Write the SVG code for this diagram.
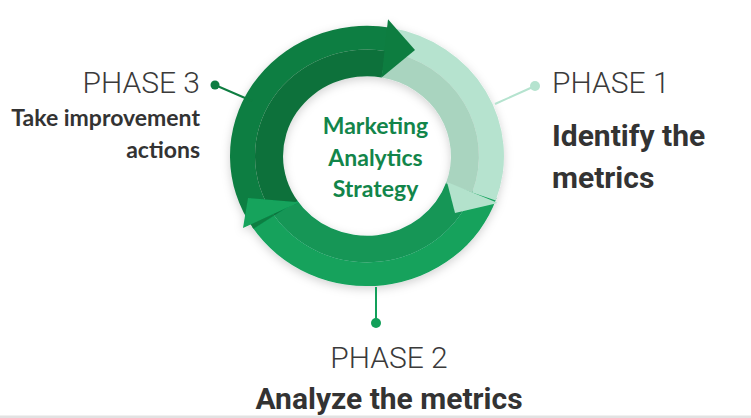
<svg xmlns="http://www.w3.org/2000/svg" width="751" height="418" viewBox="0 0 751 418">
  <defs>
    <filter id="shadow" x="-20%" y="-20%" width="140%" height="140%">
      <feDropShadow dx="0" dy="3" stdDeviation="5" flood-color="#000" flood-opacity="0.18"/>
    </filter>
    <style>
      .phase { font-family: Roboto, "Liberation Sans", sans-serif; font-weight: 300; font-size: 30px; fill: #3a3a3a; }
      .title { font-family: Roboto, "Liberation Sans", sans-serif; font-weight: 700; font-size: 30px; fill: #333333; }
      .sub { font-family: Lato, "Liberation Sans", sans-serif; font-weight: 700; font-size: 23px; fill: #333333; }
      .center { font-family: Lato, "Liberation Sans", sans-serif; font-weight: 700; font-size: 23px; fill: #12854a; text-anchor: middle; }
      .lead { stroke-width: 2; fill: none; }
    </style>
  </defs>
  <rect x="0" y="0" width="751" height="418" fill="#ffffff"/>
  <rect x="0" y="415.5" width="751" height="2.5" fill="#e2e2e2"/>

  <!-- ring -->
  <g id="ring" filter="url(#shadow)" transform="translate(367,156) scale(1,0.95)">
    <g id="body-phase2">
      <path d="M129.5,44.6 A137,137 0 0 1 -114.9,74.6 L-93.9,61.0 A112,112 0 0 0 105.9,36.5 Z" fill="#12a25b"/>
      <path d="M105.9,36.5 A112,112 0 0 1 -93.9,61.0 L-70.5,45.7 A84,84 0 0 0 79.4,27.4 Z" fill="#129657"/>
    </g>
    <g id="body-phase1">
      <path d="M23.8,-134.9 A137,137 0 0 1 128.7,46.9 L105.2,38.3 A112,112 0 0 0 19.4,-110.3 Z" fill="#b6e3cf"/>
      <path d="M19.4,-110.3 A112,112 0 0 1 105.2,38.3 L78.9,28.7 A84,84 0 0 0 14.6,-82.7 Z" fill="#a9d4bf"/>
    </g>
    <g id="body-phase3">
      <path d="M-113.6,76.6 A137,137 0 0 1 23.8,-134.9 L19.4,-110.3 A112,112 0 0 0 -92.9,62.6 Z" fill="#0f7e42"/>
      <path d="M-92.9,62.6 A112,112 0 0 1 19.4,-110.3 L14.6,-82.7 A84,84 0 0 0 -69.6,47.0 Z" fill="#0d713b"/>
    </g>
    <path id="head-phase3" d="M21,-144 L48,-111.6 L14.6,-82.7 Z" fill="#0e7d41"/>
    <path id="head-phase1" d="M80,27.4 L131,49.5 L88,60 Z" fill="#b3e2cc"/>
    <path id="head-phase2" d="M-68,48.8 L-124,75.8 L-119,44.2 Z" fill="#13a35c"/>
  </g>

  <!-- connectors -->
  <g id="connectors">
    <line class="lead" x1="252" y1="101" x2="215" y2="85" stroke="#0e7d41"/>
    <circle cx="215" cy="85" r="4.5" fill="#0e7d41"/>
    <line class="lead" x1="495" y1="104" x2="535" y2="86" stroke="#b5e3cf"/>
    <circle cx="535" cy="86" r="5" fill="#b5e3cf"/>
    <line class="lead" x1="376" y1="287" x2="376" y2="322" stroke="#12a05a"/>
    <circle cx="376" cy="323" r="5" fill="#12a05a"/>
  </g>

  <g id="center-label">
    <text class="center" x="375.5" y="134">Marketing</text>
    <text class="center" x="375.5" y="166">Analytics</text>
    <text class="center" x="375.5" y="197">Strategy</text>
  </g>

  <g id="phase3">
    <text class="phase" x="200" y="93" text-anchor="end">PHASE 3</text>
    <text class="sub" x="200" y="126" text-anchor="end">Take improvement</text>
    <text class="sub" x="200" y="158" text-anchor="end">actions</text>
  </g>
  <g id="phase1">
    <text class="phase" x="552" y="93">PHASE 1</text>
    <text class="title" x="552" y="146">Identify the</text>
    <text class="title" x="552" y="188">metrics</text>
  </g>
  <g id="phase2">
    <text class="phase" x="389" y="368" text-anchor="middle">PHASE 2</text>
    <text class="title" x="389" y="409" text-anchor="middle">Analyze the metrics</text>
  </g>
</svg>
